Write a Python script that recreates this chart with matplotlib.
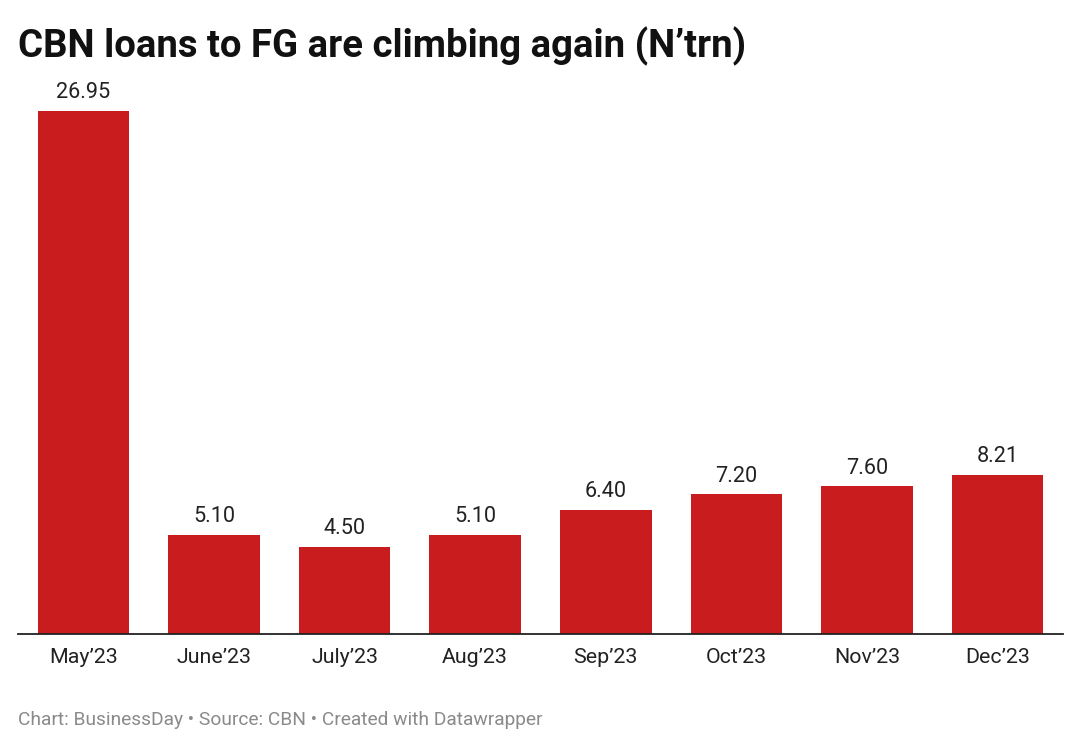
import matplotlib
matplotlib.use("Agg")
import matplotlib.pyplot as plt

# --- data ---
months = ["May\u201923", "June\u201923", "July\u201923", "Aug\u201923",
          "Sep\u201923", "Oct\u201923", "Nov\u201923", "Dec\u201923"]
loans = [26.95, 5.10, 4.50, 5.10, 6.40, 7.20, 7.60, 8.21]

TITLE = "CBN loans to FG are climbing again (N\u2019trn)"
FOOTER = "Chart: BusinessDay \u2022 Source: CBN \u2022 Created with Datawrapper"

BAR_COLOR = "#c81c1e"
plt.rcParams["font.family"] = ["Roboto", "DejaVu Sans"]

W, H = 1080, 747
fig = plt.figure(figsize=(W / 100, H / 100), dpi=100)
fig.patch.set_facecolor("white")

# axes placed in pixel terms
left, right, top, base = 18, 1063, 80, 634
ax = fig.add_axes([left / W, (H - base) / H, (right - left) / W, (base - top) / H])

x = list(range(len(months)))
bars = ax.bar(x, loans, width=0.7, color=BAR_COLOR, zorder=2)
ax.set_xlim(-0.5, len(months) - 0.5)
ax.set_ylim(0, (base - top) / 19.41)

for b, v in zip(bars, loans):
    ax.annotate(f"{v:.2f}", (b.get_x() + b.get_width() / 2, v),
                xytext=(0, 5.5), textcoords="offset points",
                ha="center", va="bottom", fontsize=15.6, color="#222222")

ax.set_xticks(x)
ax.set_xticklabels(months, fontsize=15.4, color="#222222")
ax.tick_params(axis="x", length=0, pad=10)
ax.set_yticks([])
for s in ["top", "right", "left"]:
    ax.spines[s].set_visible(False)
ax.spines["bottom"].set_color("#222222")
ax.spines["bottom"].set_linewidth(1.3)
ax.spines["bottom"].set_zorder(3)

fig.text(left / W, 1 - 57 / H, TITLE, fontsize=27.6, fontweight="bold",
         color="#111111", ha="left", va="baseline")
fig.text(left / W, 1 - 725 / H, FOOTER, fontsize=13.8, color="#8a8a8a",
         ha="left", va="baseline")

fig.savefig("out.png", dpi=100, facecolor="white")
